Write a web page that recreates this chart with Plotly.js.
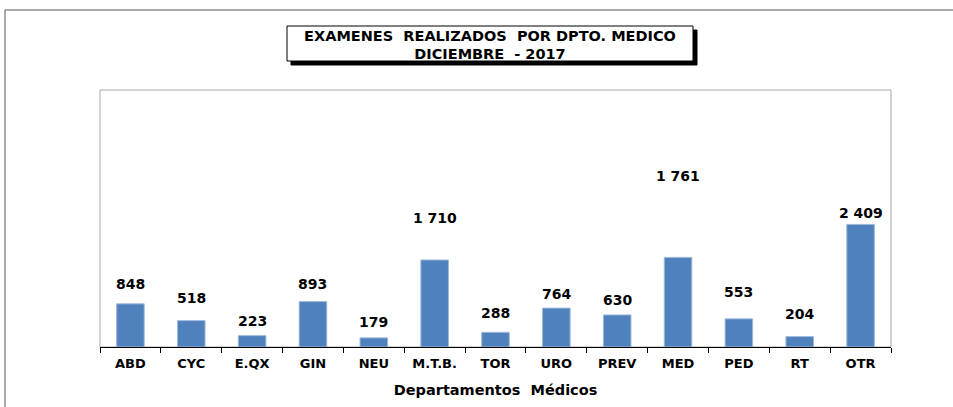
<!DOCTYPE html>
<html>
<head>
<meta charset="utf-8">
<script src="https://cdn.plot.ly/plotly-3.0.1.min.js"></script>
<style>
  html, body { margin: 0; padding: 0; background: #ffffff; }
  #chart { width: 953px; height: 407px; }
</style>
</head>
<body>
<div id="chart"></div>
<script>
// ---- data ----
const categories = ["ABD", "CYC", "E.QX", "GIN", "NEU", "M.T.B.", "TOR", "URO", "PREV", "MED", "PED", "RT", "OTR"];
const examenes = [848, 518, 223, 893, 179, 1710, 288, 764, 630, 1761, 553, 204, 2409];
const chartTitle = "EXAMENES  REALIZADOS  POR DPTO. MEDICO";
const chartSubtitle = "DICIEMBRE  - 2017";
const xTitle = "Departamentos  Médicos";

// label offsets (pixels above bar top, as placed in the original)
const labelLift = [20, 23, 15, 18, 16, 42, 19, 14, 15, 81, 27, 23, 11];

function fmt(v) {
  return String(v).replace(/\B(?=(\d{3})+(?!\d))/g, " ");
}

const FONT = "DejaVu Sans, Liberation Sans, Arial, sans-serif";

// plot area in pixels: x 100..891, y 90..347
const L = 100, R = 891, T = 90, B = 347;
const px = x => (x - L) / (R - L);
const py = y => (B - y) / (B - T);

const trace = {
  type: "bar",
  x: categories,
  y: examenes,
  marker: { color: "#4F81BD", line: { color: "#9FB8DA", width: 1 } },
  hoverinfo: "x+y"
};

const labelAnns = categories.map((c, i) => ({
  x: c, y: examenes[i], xref: "x", yref: "y",
  text: fmt(examenes[i]), showarrow: false,
  yanchor: "middle", yshift: labelLift[i],
  font: { family: FONT, size: 14, color: "#000000", weight: "bold" }
}));

const layout = {
  width: 953, height: 407,
  margin: { l: L, r: 953 - R, t: T, b: 407 - B, pad: 0 },
  paper_bgcolor: "#ffffff",
  plot_bgcolor: "#ffffff",
  showlegend: false,
  bargap: 0.547,
  title: {
    text: chartTitle + "<br>" + chartSubtitle,
    x: 490 / 953, xanchor: "center", xref: "container",
    y: 1 - 40.5 / 407, yanchor: "middle", yref: "container",
    font: { family: FONT, size: 14.5, color: "#000000", weight: "bold" }
  },
  xaxis: {
    type: "category",
    showline: true, linecolor: "#000000", linewidth: 1,
    ticks: "outside", tickson: "boundaries", ticklen: 5, tickcolor: "#000000",
    ticklabelstandoff: 4,
    tickfont: { family: FONT, size: 13, color: "#000000", weight: "bold" },
    showgrid: false, zeroline: false,
    title: { text: xTitle, standoff: 15, font: { family: FONT, size: 14.5, color: "#000000", weight: "bold" } }
  },
  yaxis: {
    range: [0, 5050],
    showticklabels: false, ticks: "", showgrid: false, zeroline: false, showline: false
  },
  shapes: [
    // outer chart border
    { type: "rect", xref: "paper", yref: "paper", x0: px(5), x1: px(965), y0: py(420), y1: py(10),
      line: { color: "#555555", width: 1 }, fillcolor: "rgba(0,0,0,0)", layer: "below" },
    // plot area frame
    { type: "rect", xref: "paper", yref: "paper", x0: 0, x1: 1, y0: 0, y1: 1,
      line: { color: "#A6A6A6", width: 1 }, fillcolor: "rgba(0,0,0,0)", layer: "below" },
    // title box shadow
    { type: "rect", xref: "paper", yref: "paper", x0: px(291), x1: px(697), y0: py(65), y1: py(30),
      line: { color: "#000000", width: 1 }, fillcolor: "#000000", layer: "below" },
    // title box
    { type: "rect", xref: "paper", yref: "paper", x0: px(287), x1: px(693), y0: py(61), y1: py(26),
      line: { color: "#000000", width: 1 }, fillcolor: "#ffffff", layer: "below" }
  ],
  annotations: labelAnns
};

Plotly.newPlot("chart", [trace], layout, { displayModeBar: false, staticPlot: true });
</script>
</body>
</html>
